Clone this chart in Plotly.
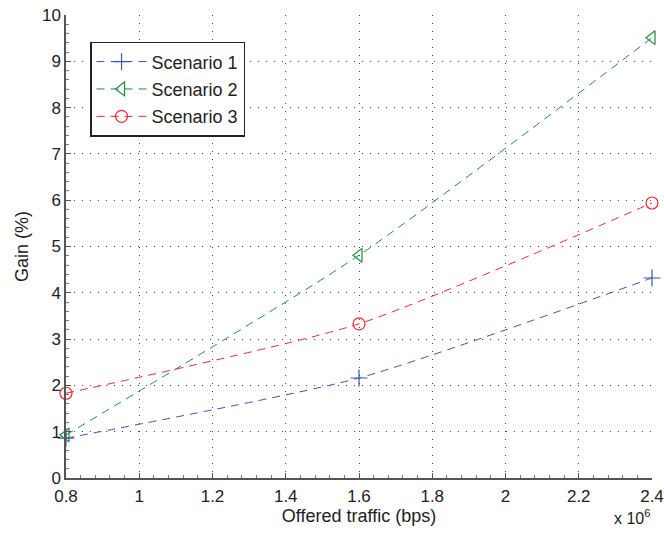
import plotly.graph_objects as go

traffic = [0.8, 1.6, 2.4]  # x 10^6 bps
scenario1 = [0.86, 2.16, 4.32]
scenario2 = [0.93, 4.81, 9.51]
scenario3 = [1.83, 3.33, 5.94]
names = ["Scenario 1", "Scenario 2", "Scenario 3"]
x_ticks = [0.8, 1.0, 1.2, 1.4, 1.6, 1.8, 2.0, 2.2, 2.4]
x_tick_text = ["0.8", "1", "1.2", "1.4", "1.6", "1.8", "2", "2.2", "2.4"]

colors = ["#3a55b5", "#1f8a3e", "#ee2a2a"]
symbols = ["cross-thin-open", "triangle-left-open", "circle-open"]

fig = go.Figure()
for i, (name, ys, c, s) in enumerate(zip(names, [scenario1, scenario2, scenario3], colors, symbols)):
    fig.add_trace(go.Scatter(
        x=traffic, y=ys, name=name, mode="lines+markers", legendgroup=f"g{i}",
        line=dict(color=c, width=1, dash="8px,6px", shape="spline", smoothing=0.6),
        marker=dict(symbol=s, size=12, color=c, line=dict(color=c, width=1.2)),
        cliponaxis=False,
    ))

font = "Liberation Sans, Arial, sans-serif"
fig.update_layout(
    width=664, height=536,
    margin=dict(l=66, r=12, t=15, b=58, autoexpand=False),
    paper_bgcolor="white", plot_bgcolor="white",
    font=dict(family=font, size=17, color="#222"),
    showlegend=True,
    legend=dict(x=0.041, y=0.942, xanchor="left", yanchor="top",
                bgcolor="white", bordercolor="#222", borderwidth=1.5,
                font=dict(size=18, color="#222"), itemwidth=50,
                tracegroupgap=1),
    xaxis=dict(range=[0.8, 2.4], tickvals=x_ticks, ticktext=x_tick_text,
               showline=True, linecolor="#555", linewidth=1.5,
               ticks="inside", ticklen=5, tickcolor="#555",
               ticklabeloverflow="allow", tickfont=dict(size=17), ticklabelstandoff=2,
               minor=dict(ticks="inside", ticklen=3, tickcolor="#777", dtick=0.04, showgrid=False),
               showgrid=True, gridcolor="#444", griddash="1px,7px", gridwidth=1,
               zeroline=False, mirror=False, automargin=False,
               title=dict(text="Offered traffic (bps)", font=dict(size=18), standoff=0)),
    yaxis=dict(range=[0, 10], dtick=1,
               showline=True, linecolor="#555", linewidth=1.5,
               ticks="inside", ticklen=5, tickcolor="#555",
               ticklabeloverflow="allow", tickfont=dict(size=17),
               minor=dict(ticks="inside", ticklen=3, tickcolor="#777", dtick=0.2, showgrid=False),
               showgrid=True, gridcolor="#444", griddash="1px,7px", gridwidth=1,
               zeroline=False, mirror=False, automargin=False,
               title=dict(text="Gain (%)", font=dict(size=18), standoff=9)),
)
fig.add_annotation(x=1.0, y=-0.085, xref="paper", yref="paper", xanchor="right", yanchor="middle",
                   text="x 10<sup>6</sup>", showarrow=False, font=dict(size=16, color="#222"))
fig.write_html("out.html", config={"displayModeBar": False},
               post_script="document.body.style.margin='0';")
